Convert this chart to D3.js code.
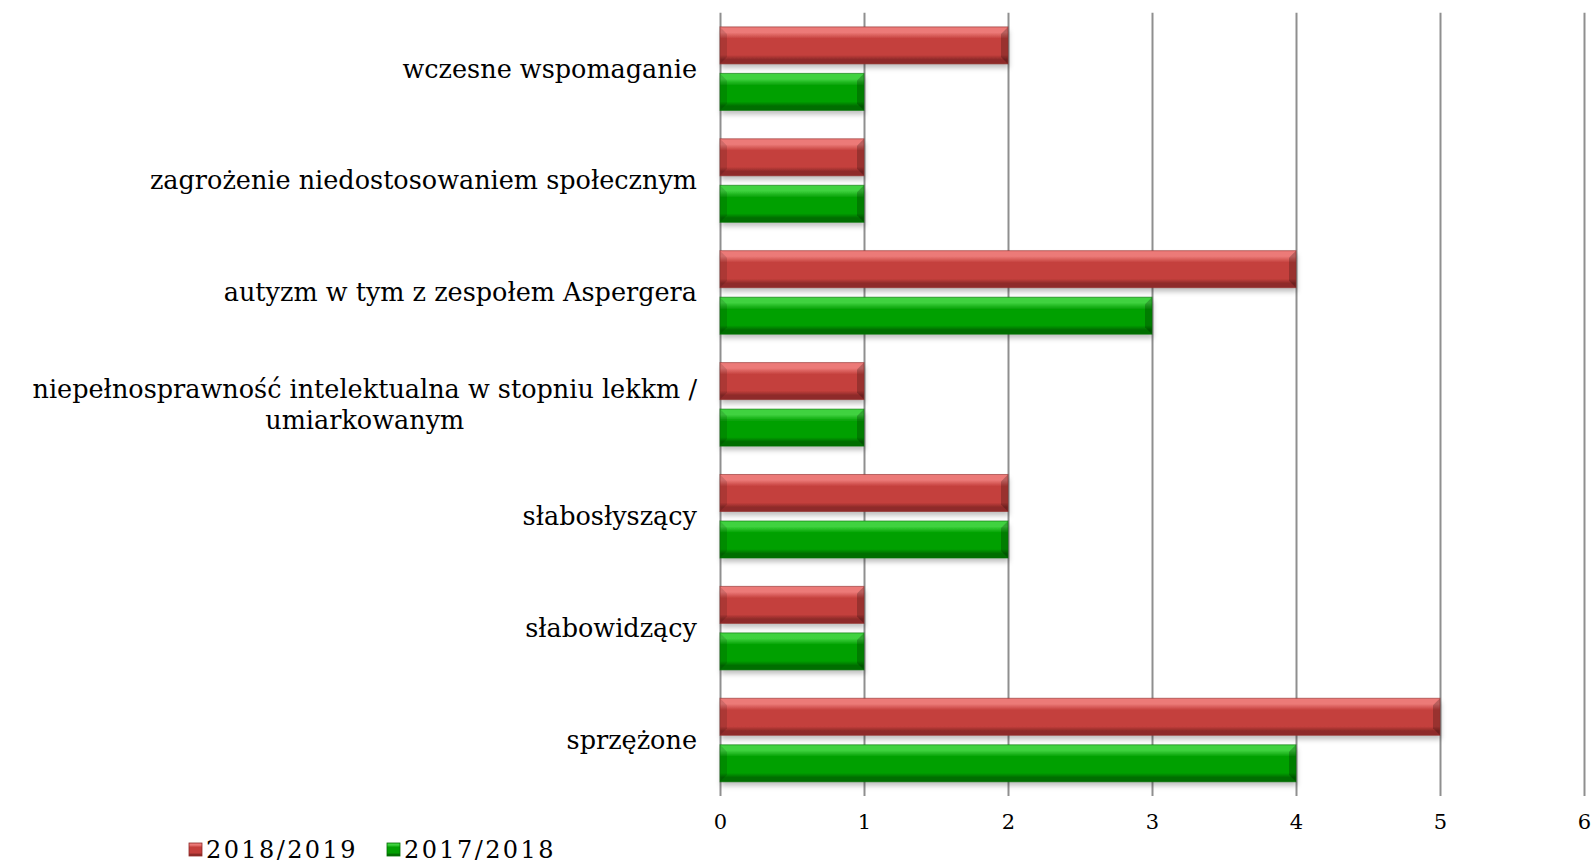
<!DOCTYPE html>
<html>
<head>
<meta charset="utf-8">
<script src="https://cdn.jsdelivr.net/npm/d3@7"></script>
<style>
  body { margin: 0; background: #fff; }
  svg { display: block; }
</style>
</head>
<body>
<div id="chart"></div>
<script>
// data
const categories = [
    "wczesne wspomaganie",
    "zagrożenie niedostosowaniem społecznym",
    "autyzm w tym z zespołem Aspergera",
    "niepełnosprawność intelektualna w stopniu lekkm / umiarkowanym",
    "słabosłyszący",
    "słabowidzący",
    "sprzężone"
];
const seriesNames = ["2018/2019", "2017/2018"];
const values2018_2019 = [2, 1, 4, 1, 2, 1, 5];
const values2017_2018 = [1, 1, 3, 1, 2, 1, 4];
const xTicks = [0, 1, 2, 3, 4, 5, 6];

const colors = {
    "2018/2019": { light: "#ec7a78", main: "#c43f3c", dark: "#8e2b29" },
    "2017/2018": { light: "#3fd23f", main: "#03a003", dark: "#036e03" }
};

const W = 1596, H = 866;
const margin = { top: 12.7, right: 12, bottom: 70, left: 720 };
const plotW = 1584 - margin.left;
const plotH = 796 - margin.top;

const svg = d3.select("#chart").append("svg")
    .attr("width", W)
    .attr("height", H);

const defs = svg.append("defs");

// gradients for bars
seriesNames.forEach((s, i) => {
    const c = colors[s];
    const g = defs.append("linearGradient")
        .attr("id", "grad" + i)
        .attr("x1", 0).attr("y1", 0).attr("x2", 0).attr("y2", 1);
    g.append("stop").attr("offset", "0%").attr("stop-color", c.light);
    g.append("stop").attr("offset", "15%").attr("stop-color", c.light);
    g.append("stop").attr("offset", "32%").attr("stop-color", c.main);
    g.append("stop").attr("offset", "76%").attr("stop-color", c.main);
    g.append("stop").attr("offset", "88%").attr("stop-color", c.dark);
    g.append("stop").attr("offset", "100%").attr("stop-color", c.dark);
});

const shadow = defs.append("filter")
    .attr("id", "shadow")
    .attr("x", "-5%").attr("y", "-20%")
    .attr("width", "115%").attr("height", "160%");
shadow.append("feDropShadow")
    .attr("dx", 1).attr("dy", 4)
    .attr("stdDeviation", 2.5)
    .attr("flood-color", "#000")
    .attr("flood-opacity", 0.25);

const g = svg.append("g")
    .attr("transform", "translate(" + margin.left + "," + margin.top + ")");

// scales
const x = d3.scaleLinear().domain([0, 6]).range([0, plotW]);
const y = d3.scaleBand().domain(categories).range([0, plotH]).padding(0);
const ySub = d3.scaleBand().domain(seriesNames).range([0, y.bandwidth()])
    .paddingInner(0.204).paddingOuter(0.305);

// x axis + vertical gridlines
const xAxis = g.append("g")
    .attr("transform", "translate(0," + plotH + ")")
    .call(d3.axisBottom(x).tickValues(xTicks).tickFormat(d3.format("d"))
        .tickSize(-plotH).tickSizeOuter(0));
xAxis.select(".domain").remove();
xAxis.selectAll(".tick line")
    .attr("stroke", "#8f8f8f")
    .attr("stroke-width", 2);
xAxis.selectAll(".tick text")
    .attr("y", 33)
    .attr("dy", 0)
    .attr("fill", "#000")
    .style("font-family", "'DejaVu Serif', serif")
    .style("font-size", "21px");

// bars
const rows = categories.map((c, i) => ({
    cat: c,
    vals: [
        { s: seriesNames[0], v: values2018_2019[i], k: 0 },
        { s: seriesNames[1], v: values2017_2018[i], k: 1 }
    ]
}));

const bev = 7;
const catG = g.selectAll(".cat")
    .data(rows)
    .enter().append("g")
    .attr("class", "cat")
    .attr("transform", d => "translate(0," + y(d.cat) + ")");

const bar = catG.selectAll(".bar")
    .data(d => d.vals)
    .enter().append("g")
    .attr("class", "bar")
    .attr("transform", d => "translate(" + x(0) + "," + ySub(d.s) + ")");

bar.append("rect")
    .attr("width", d => x(d.v) - x(0))
    .attr("height", ySub.bandwidth())
    .attr("fill", d => "url(#grad" + d.k + ")")
    .attr("filter", "url(#shadow)");

// bevel: right side darker, left side slightly darker
bar.append("path")
    .attr("fill", "#000")
    .attr("fill-opacity", 0.22)
    .attr("d", d => {
        const w = x(d.v) - x(0), h = ySub.bandwidth();
        return "M" + w + ",0 L" + w + "," + h + " L" + (w - bev) + "," + (h - bev) +
            " L" + (w - bev) + "," + bev + " Z";
    });
bar.append("path")
    .attr("fill", "#000")
    .attr("fill-opacity", 0.12)
    .attr("d", d => {
        const h = ySub.bandwidth();
        return "M0,0 L" + bev + "," + bev + " L" + bev + "," + (h - bev) + " L0," + h + " Z";
    });
bar.append("rect")
    .attr("width", d => x(d.v) - x(0))
    .attr("height", ySub.bandwidth())
    .attr("fill", "none")
    .attr("stroke", d => colors[d.s].dark)
    .attr("stroke-opacity", 0.6)
    .attr("stroke-width", 1);

// category labels (wrapped, lines centred, block right aligned)
const labelRight = 697 - margin.left;
const lineH = 30.7;
const labelFont = "'DejaVu Serif', serif";
const labelSize = 25.5;

catG.each(function(d) {
    const sel = d3.select(this);
    const t = sel.append("text")
        .style("font-family", labelFont)
        .style("font-size", labelSize + "px")
        .attr("fill", "#000");
    // greedy wrap
    const words = d.cat.split(" ");
    const lines = [];
    let cur = [];
    words.forEach(w => {
        const test = cur.concat([w]).join(" ");
        t.text(test);
        if (t.node().getComputedTextLength() > 700 && cur.length) {
            lines.push(cur.join(" "));
            cur = [w];
        } else {
            cur.push(w);
        }
    });
    lines.push(cur.join(" "));
    t.text(null);
    const widths = lines.map(l => { t.text(l); const w = t.node().getComputedTextLength(); t.text(null); return w; });
    const maxW = d3.max(widths);
    const cy = y.bandwidth() / 2;
    lines.forEach((l, i) => {
        const ly = cy + (i - (lines.length - 1) / 2) * lineH;
        t.append("tspan")
            .attr("x", lines.length > 1 ? labelRight - maxW / 2 : labelRight)
            .attr("y", ly)
            .attr("dy", "0.35em")
            .attr("text-anchor", lines.length > 1 ? "middle" : "end")
            .text(l);
    });
});

// legend
const legendPos = [189, 387];
const legend = svg.append("g");
seriesNames.forEach((s, i) => {
    const lg = legend.append("g")
        .attr("transform", "translate(" + legendPos[i] + ",843)");
    lg.append("rect")
        .attr("width", 13)
        .attr("height", 13)
        .attr("fill", "url(#grad" + i + ")")
        .attr("stroke", colors[s].dark)
        .attr("stroke-width", 0.8);
    lg.append("text")
        .attr("x", 17)
        .attr("y", 15)
        .style("font-family", labelFont)
        .style("font-size", "24px")
        .style("letter-spacing", "2.4px")
        .attr("fill", "#000")
        .text(s);
});
</script>
</body>
</html>
